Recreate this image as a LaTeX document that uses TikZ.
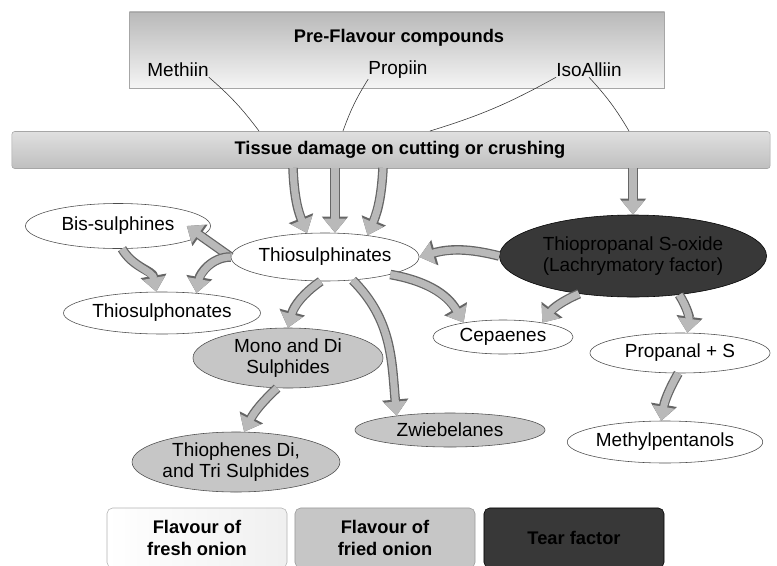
\documentclass[tikz,border=0pt]{standalone}
\usepackage{fontspec}
\setmainfont{Liberation Sans}
\usetikzlibrary{shapes.geometric,arrows.meta,positioning}
\tikzset{
  basic/.style  = {font=\fontsize{13.5}{15}\selectfont, align=center, inner sep=0pt},
  heavy/.style  = {basic, font=\bfseries\fontsize{13}{15.5}\selectfont},
  fresh/.style  = {basic, ellipse, thin, draw=gray!60!black, fill=white},
  fried/.style  = {basic, ellipse, thin, draw=gray!60!black, fill=gray!45},
  tear/.style   = {basic, ellipse, draw=black, fill=black!78, text=black},
  prebox/.style = {rectangle, draw=gray!70, top color=gray!55, bottom color=gray!8,
                   minimum width=13.375cm, minimum height=1.9cm},
  bar/.style    = {heavy, rectangle, rounded corners=2pt, draw=gray!70,
                   top color=gray!25, bottom color=gray!50,
                   minimum width=18.95cm, minimum height=0.925cm},
  legend/.style = {heavy, rectangle, rounded corners=4pt, minimum width=4.5cm,
                   minimum height=1.5cm},
  flow/.style   = {-{Triangle[length=10pt,width=15.5pt]}, line width=5pt, draw=gray!55,
                   preaction={draw=black!60, line width=6.8pt,
                   -{Triangle[length=11.5pt,width=18pt]}}},
  feed/.style   = {draw=black!80, thin}
}

\begin{document}
\begin{tikzpicture}[x=0.025cm, y=-0.025cm]
\useasboundingbox (0,0) rectangle (777,566);

% pre-flavour compounds and the damage bar
\node[prebox] (pre) at (397,50) {};
\node[heavy] (title) at (399,38) {Pre-Flavour compounds};
\node[basic] (methiin) at (178,70) {Methiin};
\node[basic] (propiin) at (398,70) {Propiin};
\node[basic] (isoall) at (589,70) {IsoAlliin};
\node[bar] (bar) at (391,150) {\hspace*{0.45cm}Tissue damage on cutting or crushing};

% products
\node[fresh, minimum width=4.6cm, minimum height=1.2cm] (thio) at (325,257) {Thiosulphinates};
\node[fresh, minimum width=4.625cm, minimum height=1.125cm] (bis) at (118,226) {Bis-sulphines};
\node[fresh, minimum width=4.75cm, minimum height=1.05cm] (thion) at (162,313) {Thiosulphonates};
\node[tear, minimum width=6.675cm, minimum height=2.05cm] (tear) at (633,256) {Thiopropanal S-oxide\\(Lachrymatory factor)};
\node[fried, minimum width=4.75cm, minimum height=1.5cm] (mono) at (288,358) {Mono and Di\\Sulphides};
\node[fried, minimum width=4.75cm, minimum height=0.85cm] (zwie) at (450,430) {Zwiebelanes};
\node[fresh, minimum width=3.5cm, minimum height=0.85cm] (cep) at (503,337) {Cepaenes};
\node[fresh, minimum width=4.5cm, minimum height=1cm] (prop) at (680,353) {Propanal + S};
\node[fresh, minimum width=4.5cm, minimum height=1.05cm] (meth) at (665,442) {Methylpentanols};
\node[fried, minimum width=4.625cm, minimum height=1.5cm] (thph) at (236,462) {Thiophenes Di,\\and Tri Sulphides};

% key
\node[legend, draw=gray!60, left color=white, right color=gray!12] (leg1) at (197,538) {Flavour of\\fresh onion};
\node[legend, draw=gray!80, fill=gray!45] (leg2) at (385,538) {Flavour of\\fried onion};
\node[legend, draw=black, fill=black!78] (leg3) at (574,538) {Tear factor};

% feeds into the bar
\coordinate (b1) at (259,131);
\coordinate (b2) at (343,131);
\coordinate (b3) at (430,131);
\coordinate (b4) at (629,131);
\draw[feed] (methiin.south east) to[bend left=6] (b1);
\draw[feed] (propiin.south west) to[bend right=6] (b2);
\draw[feed] (isoall.south west) to[bend left=6] (b3);
\draw[feed] (isoall.south) to[bend left=6] (b4);

% out of the bar
\coordinate (t1) at (293,168);
\coordinate (t2) at (335,168);
\coordinate (t3) at (383,168);
\coordinate (t4) at (633,168);
\draw[flow] (t1) to[bend right=10] (thio.127);
\draw[flow] (t2) -- (t2 |- thio.north);
\draw[flow] (t3) to[bend left=10] (thio.27);
\draw[flow] (t4) -- (tear.north);

% reactions
\draw[flow] (tear.west) to[bend right=15] (thio.east);
\draw[flow] (thio.west) -- ([xshift=-0.6cm]bis.east);
\draw[flow] (thio.west) to[out=180,in=80] (thion.30);
\draw[flow] (bis.-80) to[out=-60,in=100] (thion.105);
\draw[flow] (thio.260) to[bend right=20] (mono.north);
\draw[flow] (thio.-40) to[out=-45,in=95] (zwie.165);
\draw[flow] (thio.-15) to[out=-10,in=120] (cep.160);
\draw[flow] (tear.215) to[bend right=15] (cep.20);
\draw[flow] (tear.-40) to[bend left=20] (prop.70);
\draw[flow] (prop.-95) to[bend right=10] (meth.100);
\draw[flow] (mono.-110) to[bend right=10] (thph.75);
\end{tikzpicture}
\end{document}
